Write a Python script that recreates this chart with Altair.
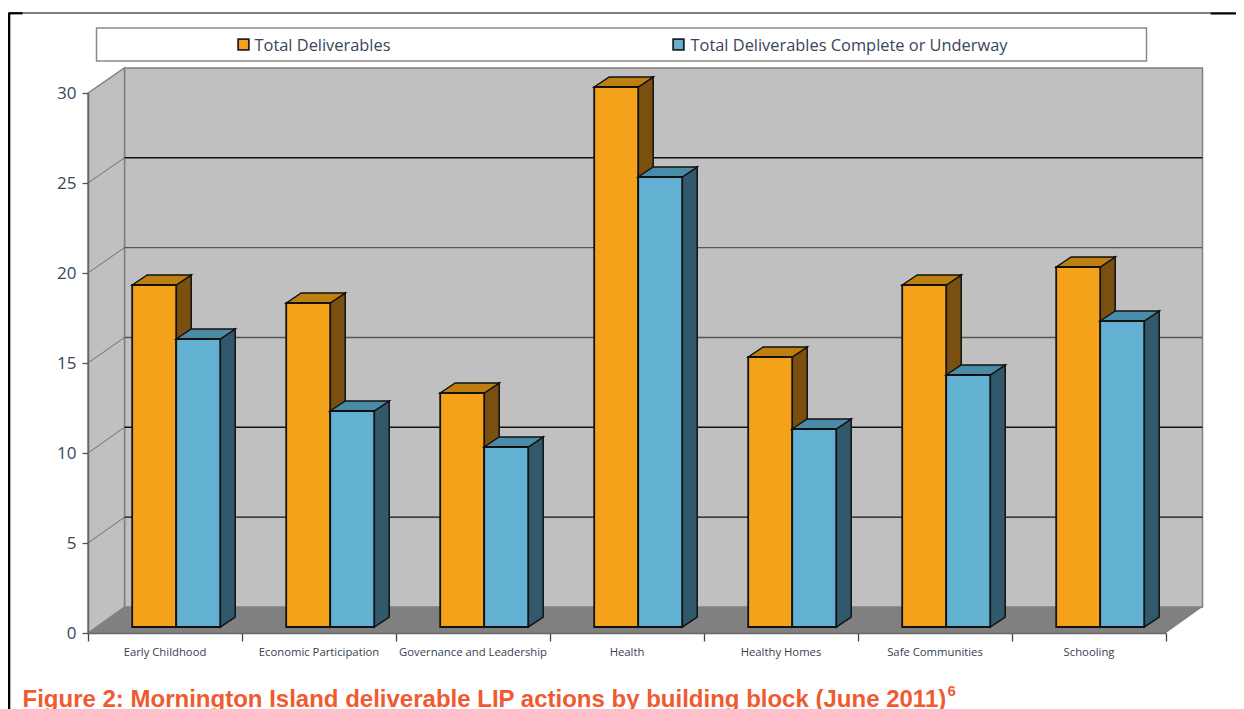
import altair as alt
import pandas as pd

categories = ["Early Childhood", "Economic Participation", "Governance and Leadership",
              "Health", "Healthy Homes", "Safe Communities", "Schooling"]
total = [19, 18, 13, 30, 15, 19, 20]
complete = [16, 12, 10, 25, 11, 14, 17]
legend_labels = ["Total Deliverables", "Total Deliverables Complete or Underway"]
y_ticks = [0, 5, 10, 15, 20, 25, 30]
grid_dark = [5, 10, 25]
grid_light = [15, 20]
caption = "Figure 2: Mornington Island deliverable LIP actions by building block (June 2011)"

PXX, PXY = 154.0, 18.0
WALL_DX, WALL_DY = 36.5 / PXX, 26 / PXY
BACK_K = 17.97 / 18
BAR_OFF, BAR_W = 44.2 / PXX, 44 / PXX
BAR_DX, BAR_DY = 15 / PXX, 10 / PXY
BAR_BASE = 6 / PXY
N = len(categories)

xs = alt.Scale(domain=[0, N], nice=False)
ys = alt.Scale(domain=[0, 30], nice=False)
x_axis = alt.Axis(values=list(range(N + 1)), labels=False, title=None, grid=False,
                  tickSize=8, tickWidth=1.3, tickColor="#444444",
                  domainColor="#666666", domainWidth=1.5, zindex=1)
y_axis = alt.Axis(values=y_ticks, title=None, grid=False, tickSize=6,
                  tickWidth=1.3, tickColor="#555555", domainColor="#666666",
                  domainWidth=1.5, labelFont="Open Sans", labelFontSize=17,
                  labelColor="#38465a", labelPadding=6, zindex=1)
X = alt.X("x:Q", scale=xs, axis=x_axis)
Y = alt.Y("y:Q", scale=ys, axis=y_axis)
Y2 = alt.Y2("y2:Q")


def poly(rows, **mk):
    return alt.Chart(pd.DataFrame(rows)).mark_area(**mk).encode(x=X, y=Y, y2=Y2, detail="id:N")


def px(px_x):
    return (px_x - 88.5) / PXX


def py(px_y):
    return (633 - px_y) / PXY


# walls
top_back = 30 * BACK_K + WALL_DY
wall_back = [{"id": "w", "x": WALL_DX, "y": top_back, "y2": WALL_DY},
             {"id": "w", "x": N + WALL_DX, "y": top_back, "y2": WALL_DY}]
wall_left = [{"id": "l", "x": 0, "y": 30, "y2": 0},
             {"id": "l", "x": WALL_DX, "y": top_back, "y2": WALL_DY}]
floor = [{"id": "f", "x": 0, "y": 0, "y2": 0},
         {"id": "f", "x": WALL_DX, "y": WALL_DY, "y2": 0},
         {"id": "f", "x": N, "y": WALL_DY, "y2": 0},
         {"id": "f", "x": N + WALL_DX, "y": WALL_DY, "y2": WALL_DY}]

layers = [
    poly(wall_back, color="#c0c0c0", stroke="#808080", strokeWidth=1.5),
    poly(wall_left, color="#c0c0c0", stroke="#808080", strokeWidth=1.5),
    poly(floor, color="#808080"),
]


def grid(values, color):
    rows = []
    for v in values:
        yb = v * BACK_K + WALL_DY
        rows.append({"id": v, "x": WALL_DX, "y": yb})
        rows.append({"id": v, "x": N + WALL_DX, "y": yb})
    return alt.Chart(pd.DataFrame(rows)).mark_line(color=color, strokeWidth=1.4).encode(
        x=X, y=Y, detail="id:N")


layers += [grid(grid_light, "#555555"), grid(grid_dark, "#111111")]

side_rows = []
for v in y_ticks[1:-1]:
    side_rows.append({"id": v, "x": 0, "y": v})
    side_rows.append({"id": v, "x": WALL_DX, "y": v * BACK_K + WALL_DY})
layers.append(alt.Chart(pd.DataFrame(side_rows)).mark_line(color="#707070", strokeWidth=1).encode(
    x=X, y=Y, detail="id:N"))


def series(values, shift, front, top, side):
    sr, tr, fr = [], [], []
    for i, v in enumerate(values):
        x0 = i + BAR_OFF + shift * BAR_W
        x1 = x0 + BAR_W
        yt = v + BAR_BASE
        sr += [{"id": i, "x": x1, "y": yt, "y2": BAR_BASE},
               {"id": i, "x": x1 + BAR_DX, "y": yt + BAR_DY, "y2": BAR_BASE + BAR_DY}]
        tr += [{"id": i, "x": x0, "y": yt, "y2": yt},
               {"id": i, "x": x0 + BAR_DX, "y": yt + BAR_DY, "y2": yt},
               {"id": i, "x": x1, "y": yt + BAR_DY, "y2": yt},
               {"id": i, "x": x1 + BAR_DX, "y": yt + BAR_DY, "y2": yt + BAR_DY}]
        fr.append({"x": x0, "x2": x1, "y": yt, "y2": BAR_BASE})
    return [
        poly(sr, color=side, stroke="#111111", strokeWidth=1.5),
        poly(tr, color=top, stroke="#111111", strokeWidth=1.5),
        alt.Chart(pd.DataFrame(fr)).mark_rect(color=front, stroke="#111111", strokeWidth=1.8).encode(
            x=X, x2="x2:Q", y=Y, y2=Y2),
    ]


ORANGE, BLUE = "#f4a21a", "#62b0d2"
layers += series(total, 0, ORANGE, "#bd7f0f", "#7a5010")
layers += series(complete, 1, BLUE, "#4a8ca8", "#31596b")

# category labels
cat_df = pd.DataFrame({"x": [i + 0.5 for i in range(N)], "y": [py(653)] * N, "t": categories})
layers.append(alt.Chart(cat_df).mark_text(font="Open Sans", fontSize=11.3, color="#38404f",
                                          baseline="middle", align="center").encode(x=X, y=Y, text="t:N"))

# legend
box = [{"x": px(97), "x2": px(1147), "y": py(28), "y2": py(61)}]
layers.append(alt.Chart(pd.DataFrame(box)).mark_rect(color="white", stroke="#8a8a8a", strokeWidth=1.5).encode(
    x=X, x2="x2:Q", y=Y, y2=Y2))
swatch = pd.DataFrame({"x": [px(244), px(679)], "y": [py(44.5)] * 2, "c": [ORANGE, BLUE]})
layers.append(alt.Chart(swatch).mark_point(shape="square", filled=True, size=115, stroke="#222222",
                                           strokeWidth=1.8, opacity=1).encode(
    x=X, y=Y, fill=alt.Fill("c:N", scale=None)))
leg_df = pd.DataFrame({"x": [px(255), px(691)], "y": [py(46)] * 2, "t": legend_labels})
layers.append(alt.Chart(leg_df).mark_text(font="Open Sans", fontSize=16.4, color="#38465a", align="left",
                                          baseline="middle").encode(x=X, y=Y, text="t:N"))

# caption
cap_df = pd.DataFrame({"x": [px(23)], "y": [py(700)], "t": [caption]})
layers.append(alt.Chart(cap_df).mark_text(font="Liberation Sans", fontWeight="bold", fontSize=24,
                                          color="#f05a30", align="left", baseline="middle").encode(
    x=X, y=Y, text="t:N"))
sup_df = pd.DataFrame({"x": [px(948)], "y": [py(691)], "t": ["6"]})
layers.append(alt.Chart(sup_df).mark_text(font="Liberation Sans", fontWeight="bold", fontSize=15,
                                          color="#f05a30", align="left", baseline="middle").encode(
    x=X, y=Y, text="t:N"))

# page frame
frame = [
    {"x": px(9), "x2": px(1211), "y": py(13)},
]
layers.append(alt.Chart(pd.DataFrame(frame)).mark_rule(color="black", strokeWidth=1.2).encode(
    x=X, x2="x2:Q", y=Y))
layers.append(alt.Chart(pd.DataFrame([{"x": px(1211), "x2": px(1244), "y": py(13.3)},
                                      {"x": px(9), "x2": px(23), "y": py(13.3)}])).mark_rule(
    color="black", strokeWidth=2.2).encode(x=X, x2="x2:Q", y=Y))
layers.append(alt.Chart(pd.DataFrame([{"x": px(9.5), "y": py(13), "y2": py(709)}])).mark_rule(
    color="black", strokeWidth=2.6).encode(x=X, y=Y, y2=Y2))

chart = alt.layer(*layers).properties(
    width=1078, height=540,
    padding={"left": 80, "top": 85, "right": 70, "bottom": 76},
    autosize=alt.AutoSizeParams(type="none"),
    background="white",
).configure_view(stroke=None)

chart.save("out.html", embed_options={"renderer": "svg", "actions": False})
